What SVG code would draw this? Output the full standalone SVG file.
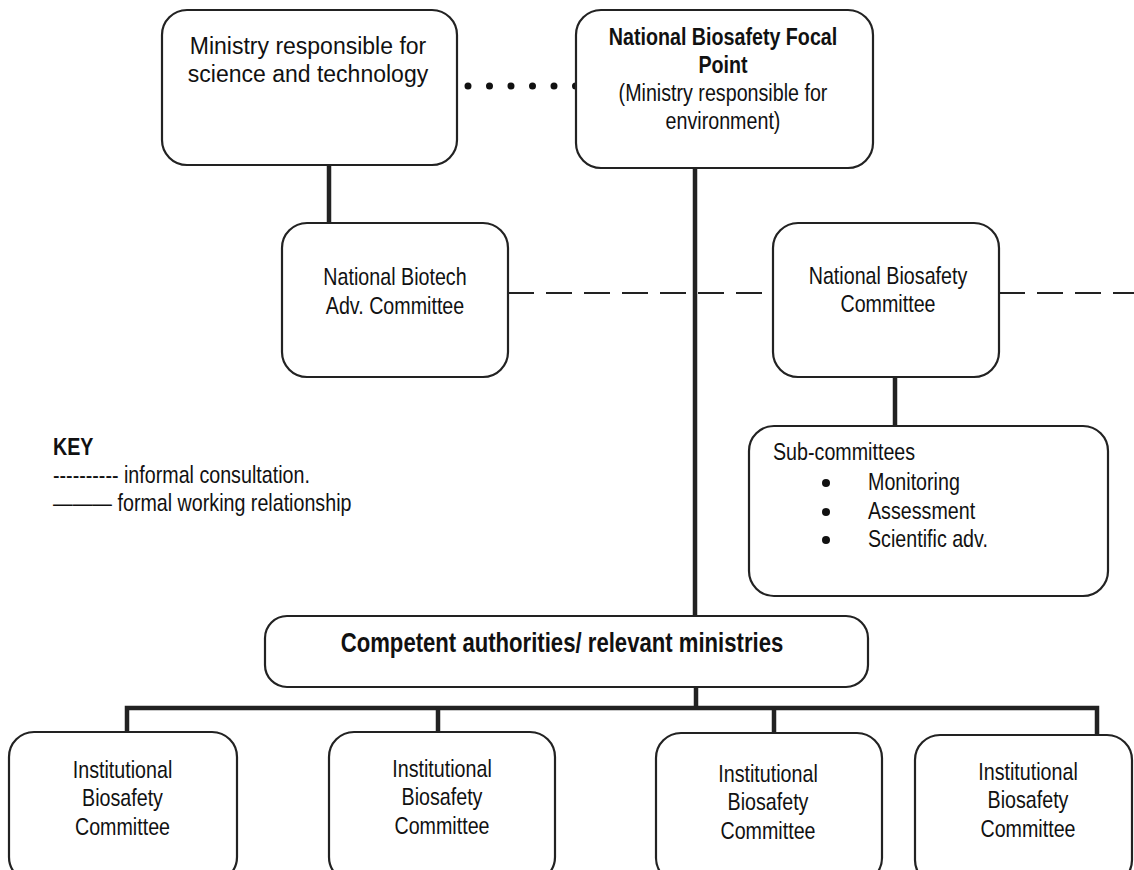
<svg xmlns="http://www.w3.org/2000/svg" width="1134" height="870" viewBox="0 0 1134 870">
<style>
.box{fill:#fff;stroke:#222;stroke-width:2.2}
.t{font-family:"Liberation Sans","Arial",sans-serif;font-size:24px;fill:#111}
.c{text-anchor:middle}
.b{font-weight:bold}
.wide{font-family:"Liberation Sans","Arial",sans-serif;font-size:23px;fill:#111;text-anchor:middle}
.solid{stroke:#222;stroke-width:4.5;fill:none}
.dash{stroke:#222;stroke-width:2;fill:none;stroke-dasharray:26 12}
.dot{stroke:#111;stroke-width:7;stroke-linecap:round;stroke-dasharray:0 21.5;fill:none}
</style>
<rect width="1134" height="870" fill="#fff"/>
<g id="connectors">
<line class="dot" x1="468" y1="86" x2="576" y2="86"/>
<line class="solid" x1="329" y1="165" x2="329" y2="223"/>
<line class="solid" x1="695" y1="168" x2="695" y2="616"/>
<line class="dash" x1="508" y1="293" x2="773" y2="293"/>
<line class="dash" x1="999" y1="293" x2="1134" y2="293"/>
<line class="solid" x1="895" y1="377" x2="895" y2="426"/>
<line class="solid" x1="696" y1="687" x2="696" y2="708"/>
<path class="solid" d="M127 732 V708 H1097 V735"/>
<line class="solid" x1="438" y1="708" x2="438" y2="732"/>
<line class="solid" x1="774" y1="708" x2="774" y2="733"/>
</g>
<g id="ministry-st">
<rect class="box" x="162" y="10" width="295" height="155" rx="25"/>
<text class="wide" x="308" y="54">Ministry responsible for</text>
<text class="wide" x="308" y="82">science and technology</text>
</g>
<g id="nbfp">
<rect class="box" x="576" y="10" width="297" height="158" rx="25"/>
<text class="t c b" transform="translate(723 45) scale(0.82 1)">National Biosafety Focal</text>
<text class="t c b" transform="translate(723 73) scale(0.82 1)">Point</text>
<text class="t c" transform="translate(723 101) scale(0.82 1)">(Ministry responsible for</text>
<text class="t c" transform="translate(723 129) scale(0.82 1)">environment)</text>
</g>
<g id="nbac">
<rect class="box" x="282" y="223" width="226" height="154" rx="25"/>
<text class="t c" transform="translate(395 285) scale(0.82 1)">National Biotech</text>
<text class="t c" transform="translate(395 314) scale(0.82 1)">Adv. Committee</text>
</g>
<g id="nbc">
<rect class="box" x="773" y="223" width="226" height="154" rx="25"/>
<text class="t c" transform="translate(888 284) scale(0.82 1)">National Biosafety</text>
<text class="t c" transform="translate(888 312) scale(0.82 1)">Committee</text>
</g>
<g id="subcommittees">
<rect class="box" x="749" y="426" width="359" height="170" rx="25"/>
<text class="t" transform="translate(773 460) scale(0.82 1)">Sub-committees</text>
<circle cx="826" cy="483" r="4" fill="#111"/>
<circle cx="826" cy="512" r="4" fill="#111"/>
<circle cx="826" cy="540" r="4" fill="#111"/>
<text class="t" transform="translate(868 490) scale(0.82 1)">Monitoring</text>
<text class="t" transform="translate(868 519) scale(0.82 1)">Assessment</text>
<text class="t" transform="translate(868 547) scale(0.82 1)">Scientific adv.</text>
</g>
<g id="key">
<text class="t b" transform="translate(53 455) scale(0.82 1)">KEY</text>
<text class="t" transform="translate(53 483) scale(0.82 1)">---------- informal consultation.</text>
<text class="t" transform="translate(53 511) scale(0.82 1)">——— formal working relationship</text>
</g>
<g id="competent">
<rect class="box" x="265" y="616" width="603" height="71" rx="22"/>
<text class="t c b" transform="translate(562 652) scale(0.82 1)" style="font-size:27px">Competent authorities/ relevant ministries</text>
</g>
<g id="ibc1">
<rect class="box" x="9" y="732" width="228" height="150" rx="25"/>
<text class="t c" transform="translate(122.5 778) scale(0.82 1)">Institutional</text>
<text class="t c" transform="translate(122.5 806) scale(0.82 1)">Biosafety</text>
<text class="t c" transform="translate(122.5 835) scale(0.82 1)">Committee</text>
</g>
<g id="ibc2">
<rect class="box" x="329" y="732" width="226" height="150" rx="25"/>
<text class="t c" transform="translate(442 777) scale(0.82 1)">Institutional</text>
<text class="t c" transform="translate(442 805) scale(0.82 1)">Biosafety</text>
<text class="t c" transform="translate(442 834) scale(0.82 1)">Committee</text>
</g>
<g id="ibc3">
<rect class="box" x="656" y="733" width="226" height="150" rx="25"/>
<text class="t c" transform="translate(768 782) scale(0.82 1)">Institutional</text>
<text class="t c" transform="translate(768 810) scale(0.82 1)">Biosafety</text>
<text class="t c" transform="translate(768 839) scale(0.82 1)">Committee</text>
</g>
<g id="ibc4">
<rect class="box" x="915" y="735" width="217" height="150" rx="25"/>
<text class="t c" transform="translate(1028 780) scale(0.82 1)">Institutional</text>
<text class="t c" transform="translate(1028 808) scale(0.82 1)">Biosafety</text>
<text class="t c" transform="translate(1028 837) scale(0.82 1)">Committee</text>
</g>
</svg>
